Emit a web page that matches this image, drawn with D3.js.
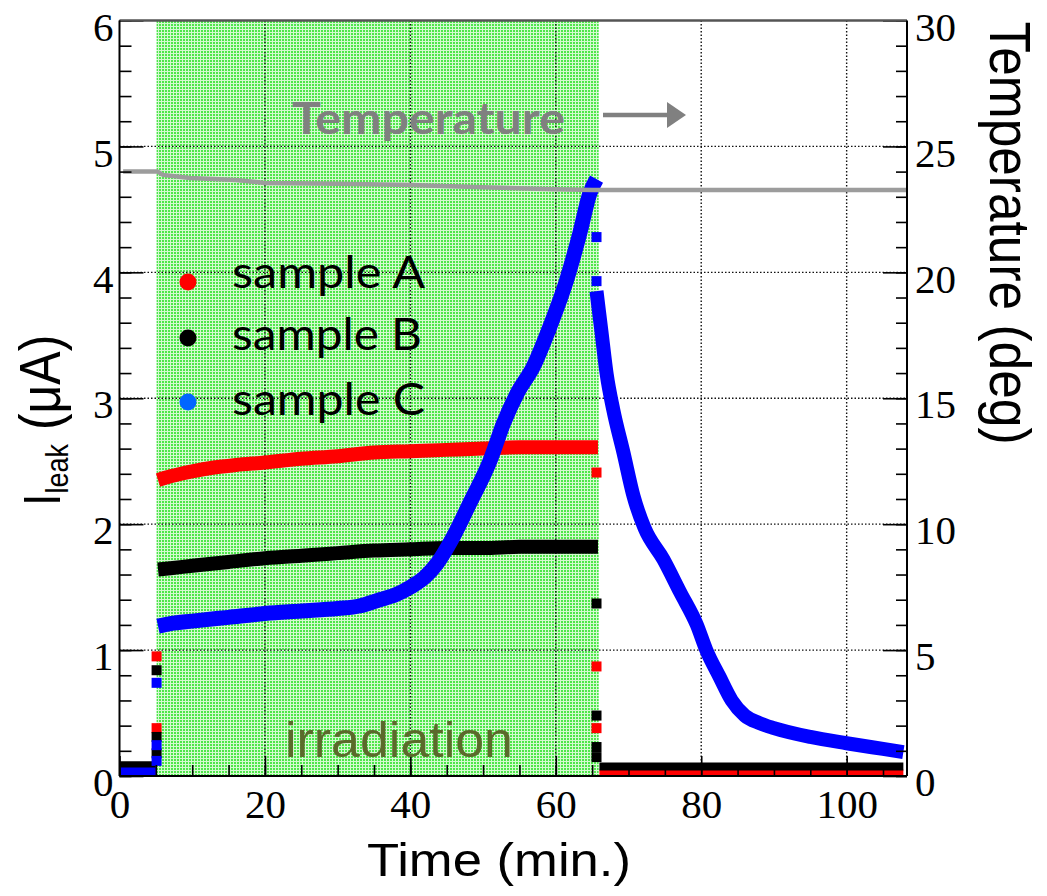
<!DOCTYPE html>
<html>
<head>
<meta charset="utf-8">
<script src="https://cdn.jsdelivr.net/npm/d3@7"></script>
<style>
  html, body { margin: 0; padding: 0; background: #ffffff; }
  svg { display: block; }
</style>
</head>
<body>
<svg id="chart" width="1047" height="896"></svg>
<script>
// ---------------- data ----------------
const xTicksMajor = [0, 20, 40, 60, 80, 100];
const yTicksMajor = [0, 1, 2, 3, 4, 5, 6];
const tTicksMajor = [0, 5, 10, 15, 20, 25, 30];

const irradiationPeriod = [5.1, 65.9];

// sample A (red)
const sampleA_pre  = [[0, 0.03], [5.0, 0.03]];
const sampleA_irr  = [[5.3, 2.35], [7, 2.38], [10, 2.42], [13, 2.45], [16, 2.47], [20, 2.49], [25, 2.52], [30, 2.54], [35, 2.57], [40, 2.58], [45, 2.59], [50, 2.60], [55, 2.61], [60, 2.61], [65.8, 2.61]];
const sampleA_post = [[66.0, 0.02], [107.8, 0.02]];
const sampleA_jump = [[5.1, 0.95], [5.1, 0.38], [65.6, 2.41], [65.6, 0.87], [65.6, 0.38]];

// sample B (black)
const sampleB_pre  = [[0, 0.085], [5.0, 0.085]];
const sampleB_irr  = [[5.3, 1.64], [7, 1.65], [10, 1.67], [15, 1.70], [20, 1.73], [25, 1.75], [30, 1.77], [35, 1.79], [40, 1.80], [45, 1.81], [50, 1.81], [55, 1.82], [60, 1.82], [65.8, 1.82]];
const sampleB_post = [[66.0, 0.075], [107.8, 0.075]];
const sampleB_jump = [[5.1, 0.84], [5.1, 0.31], [5.1, 0.18], [65.6, 1.37], [65.6, 0.48], [65.6, 0.23], [65.6, 0.15]];

// sample C (blue)
const sampleC_pre  = [[0, 0.035], [5.0, 0.035]];
const sampleC_irr  = [[5.3, 1.19], [7, 1.21], [10, 1.23], [15, 1.26], [20, 1.29], [25, 1.31], [30, 1.33], [33, 1.35], [35.8, 1.40], [38, 1.44], [40, 1.50], [42, 1.58], [43.7, 1.69], [45.9, 1.90], [48.2, 2.17], [51, 2.51], [52.8, 2.80], [54.7, 3.04], [56.9, 3.25], [59.2, 3.57], [61.5, 3.94], [63.3, 4.31], [64.7, 4.63], [65.6, 4.74]];
const sampleC_post = [[65.6, 3.85], [66.3, 3.52], [67.0, 3.19], [67.9, 2.91], [69.3, 2.57], [70.7, 2.22], [72.2, 1.97], [74.8, 1.72], [77.1, 1.46], [79.4, 1.20], [80.7, 1.00], [82.5, 0.79], [84.2, 0.60], [86, 0.48], [88, 0.42], [90, 0.38], [95, 0.31], [100, 0.26], [105, 0.215], [107.8, 0.19]];
const sampleC_jump = [[5.1, 0.74], [5.1, 0.245], [5.1, 0.12], [65.6, 4.28], [65.6, 3.93]];

// temperature (deg, right axis)
const temperature = [[0.5, 24.0], [5.2, 24.0], [6, 23.87], [9.7, 23.75], [16, 23.67], [20, 23.55], [30, 23.52], [40, 23.47], [50, 23.38], [60, 23.3], [65, 23.27], [108.3, 23.27]];

const legendLabels = ["sample A", "sample B", "sample C"];
const legendColors = ["#ff0000", "#000000", "#0066ff"];
const seriesColors = ["#ff0000", "#000000", "#0000ff"];

// ---------------- layout ----------------
const L = 119.5, R = 907, T = 20.5, B = 776;
const SX = 1.14; // horizontal stretch of the original picture

const svg = d3.select("#chart");
const x = d3.scaleLinear().domain([0, 108.3]).range([L, R]);
const y = d3.scaleLinear().domain([0, 6]).range([B, T]);
const yT = d3.scaleLinear().domain([0, 30]).range([B, T]);

// pattern for irradiation region
const defs = svg.append("defs");
const pat = defs.append("pattern").attr("id", "greenPat").attr("patternUnits", "userSpaceOnUse")
  .attr("width", 3).attr("height", 3);
pat.append("rect").attr("width", 3).attr("height", 3).attr("fill", "#d4fad0");
pat.append("rect").attr("width", 2).attr("height", 2).attr("fill", "#4ee64a");
defs.append("clipPath").attr("id", "plotClip").append("rect")
  .attr("x", L).attr("y", T).attr("width", R - L).attr("height", B - T);

svg.append("rect").attr("width", 1047).attr("height", 896).attr("fill", "#ffffff");

// irradiation region
svg.append("rect")
  .attr("x", x(irradiationPeriod[0])).attr("y", T)
  .attr("width", x(irradiationPeriod[1]) - x(irradiationPeriod[0]))
  .attr("height", B - T)
  .attr("fill", "url(#greenPat)");

// grid
const grid = svg.append("g").attr("stroke", "#111").attr("stroke-width", 1.4).attr("stroke-dasharray", "1.5,2");
grid.selectAll("line.v").data(xTicksMajor.filter(d => d > 0)).join("line")
  .attr("class", "v")
  .attr("x1", d => x(d)).attr("x2", d => x(d)).attr("y1", T).attr("y2", B);
grid.selectAll("line.h").data(yTicksMajor.filter(d => d > 0 && d < 6)).join("line")
  .attr("class", "h")
  .attr("x1", L).attr("x2", R).attr("y1", d => y(d)).attr("y2", d => y(d));

// data
const plot = svg.append("g").attr("clip-path", "url(#plotClip)");
const line = d3.line().x(d => x(d[0])).y(d => y(d[1]));
const curve = d3.line().x(d => x(d[0])).y(d => y(d[1])).curve(d3.curveMonotoneX);
const lineT = d3.line().x(d => x(d[0])).y(d => yT(d[1]));

const series = [
  { pre: sampleA_pre, irr: sampleA_irr, post: sampleA_post, jump: sampleA_jump, color: seriesColors[0] },
  { pre: sampleB_pre, irr: sampleB_irr, post: sampleB_post, jump: sampleB_jump, color: seriesColors[1] },
  { pre: sampleC_pre, irr: sampleC_irr, post: sampleC_post, jump: sampleC_jump, color: seriesColors[2] }
];

series.forEach((s, i) => {
  const g = plot.append("g");
  g.append("path").attr("d", line(s.pre)).attr("fill", "none").attr("stroke", s.color).attr("stroke-width", 8);
  g.append("path").attr("d", curve(s.irr)).attr("fill", "none").attr("stroke", s.color)
    .attr("stroke-width", i === 2 ? 15 : 14).attr("stroke-linejoin", "round");
  const postW = i === 2 ? 14 : 8;
  g.append("path").attr("d", curve(s.post)).attr("fill", "none").attr("stroke", s.color)
    .attr("stroke-width", postW).attr("stroke-linejoin", "round");
  g.selectAll("rect").data(s.jump).join("rect")
    .attr("x", d => x(d[0]) - 5).attr("y", d => y(d[1]) - 5)
    .attr("width", 10).attr("height", 10).attr("fill", s.color);
});

// temperature line
plot.append("path").attr("d", lineT(temperature)).attr("fill", "none")
  .attr("stroke", "#9c9c9c").attr("stroke-width", 4.5);

// axes
const tickFont = "'Liberation Serif', 'Times New Roman', serif";
function styleAxis(g) {
  g.select(".domain").remove();
  g.selectAll(".tick line").attr("stroke", "#000").attr("stroke-width", 1.6);
  g.selectAll("text").attr("font-family", tickFont).attr("font-size", 41).attr("fill", "#000");
}

// bottom
const xMinor = d3.range(0, 108, 5);
svg.append("g").attr("transform", `translate(0,${B})`)
  .call(d3.axisBottom(x).tickValues(xMinor).tickSize(-11).tickFormat("")).call(styleAxis);
svg.append("g").attr("transform", `translate(0,${B})`)
  .call(d3.axisBottom(x).tickValues(xTicksMajor).tickSize(-20).tickPadding(13).tickFormat(d3.format("d")))
  .call(styleAxis);

// left
const yMinor = d3.range(0, 6.01, 0.2);
svg.append("g").attr("transform", `translate(${L},0)`)
  .call(d3.axisLeft(y).tickValues(yMinor).tickSize(-12).tickFormat("")).call(styleAxis);
svg.append("g").attr("transform", `translate(${L},0)`)
  .call(d3.axisLeft(y).tickValues(yTicksMajor).tickSize(-24).tickPadding(6).tickFormat(d3.format("d")))
  .call(styleAxis)
  .selectAll("text").attr("dy", "0.48em");

// right
const tMinor = d3.range(0, 30.01, 1);
svg.append("g").attr("transform", `translate(${R},0)`)
  .call(d3.axisRight(yT).tickValues(tMinor).tickSize(-11).tickFormat("")).call(styleAxis);
svg.append("g").attr("transform", `translate(${R},0)`)
  .call(d3.axisRight(yT).tickValues(tTicksMajor).tickSize(-24).tickPadding(8).tickFormat(d3.format("d")))
  .call(styleAxis)
  .selectAll("text").attr("dy", "0.48em");

// frame
svg.append("line").attr("x1", L).attr("x2", R).attr("y1", T).attr("y2", T).attr("stroke", "#555").attr("stroke-width", 2.5);
svg.append("line").attr("x1", L).attr("x2", R).attr("y1", B).attr("y2", B).attr("stroke", "#000").attr("stroke-width", 2);
svg.append("line").attr("x1", L).attr("x2", L).attr("y1", T).attr("y2", B).attr("stroke", "#000").attr("stroke-width", 2);
svg.append("line").attr("x1", R).attr("x2", R).attr("y1", T).attr("y2", B).attr("stroke", "#000").attr("stroke-width", 2);

// annotations
const sans = "'Liberation Sans', Arial, sans-serif";
const calib = "Lato, 'Open Sans', sans-serif";

svg.append("text").attr("x", 292).attr("y", 134).attr("font-family", calib).attr("font-weight", "bold")
  .attr("font-size", 44).attr("fill", "#808080").attr("textLength", 273).attr("lengthAdjust", "spacingAndGlyphs")
  .text("Temperature");
svg.append("line").attr("x1", 603).attr("x2", 670).attr("y1", 115).attr("y2", 115)
  .attr("stroke", "#808080").attr("stroke-width", 4.5);
svg.append("path").attr("d", "M667,102 L686,115 L667,128 Z").attr("fill", "#808080");

svg.append("text").attr("x", 285).attr("y", 757).attr("font-family", sans)
  .attr("font-size", 50).attr("fill", "#5b6a2b").attr("textLength", 228).attr("lengthAdjust", "spacingAndGlyphs")
  .text("irradiation");

// legend
const legY = [282, 338, 402];
const legBase = [288, 350, 415];
const legW = [193, 190, 193];
legendLabels.forEach((lab, i) => {
  svg.append("circle").attr("cx", 188).attr("cy", legY[i]).attr("r", 8.5).attr("fill", legendColors[i]);
  svg.append("text").attr("x", 232).attr("y", legBase[i]).attr("font-family", calib)
    .attr("font-size", 44).attr("fill", "#000").attr("textLength", legW[i]).attr("lengthAdjust", "spacingAndGlyphs")
    .text(lab);
});

// axis titles
svg.append("text").attr("x", 499).attr("y", 876).attr("text-anchor", "middle")
  .attr("font-family", sans).attr("font-size", 46).attr("fill", "#000")
  .attr("textLength", 264).attr("lengthAdjust", "spacingAndGlyphs")
  .text("Time (min.)");

svg.append("text").attr("transform", `translate(990,233) scale(${SX},1) rotate(90)`)
  .attr("text-anchor", "middle").attr("font-family", sans).attr("font-size", 51).attr("fill", "#000")
  .attr("textLength", 423).attr("lengthAdjust", "spacingAndGlyphs")
  .text("Temperature (deg)");

const yt = svg.append("text").attr("transform", `translate(60,506) scale(${SX},1) rotate(-90)`)
  .attr("font-family", sans).attr("font-size", 45).attr("fill", "#000");
yt.append("tspan").text("I");
yt.append("tspan").attr("font-size", 27).attr("dy", 7).text("leak");
yt.append("tspan").attr("dy", -7).attr("font-size", 50).text(" (μA)");
</script>
</body>
</html>
